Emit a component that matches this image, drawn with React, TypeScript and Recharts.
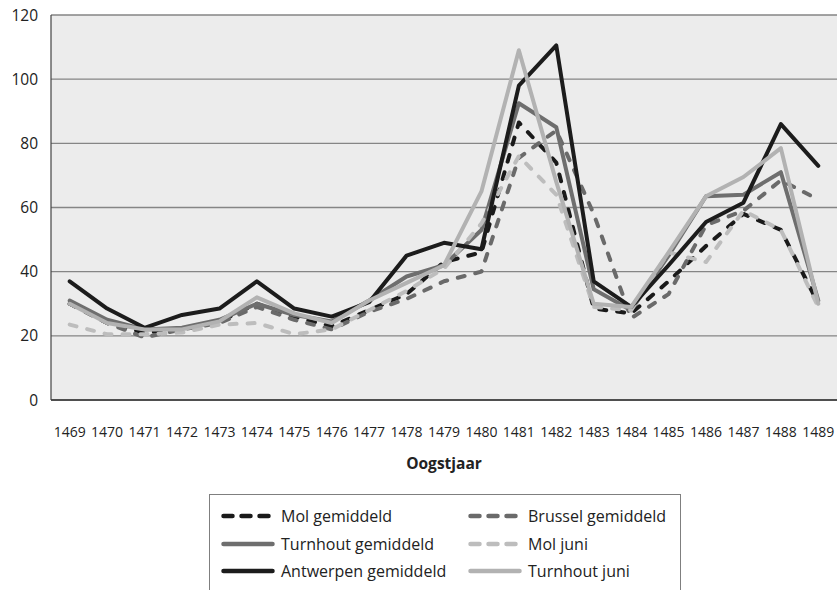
import React from 'react';
import { LineChart, Line, XAxis, YAxis, CartesianGrid } from 'recharts';

const years = [
  '1469', '1470', '1471', '1472', '1473', '1474', '1475', '1476', '1477', '1478', '1479',
  '1480', '1481', '1482', '1483', '1484', '1485', '1486', '1487', '1488', '1489',
];

const molGemiddeld = [30, 24, 21, 22, 24.5, 30, 26, 23, 28, 33, 43, 46, 86.5, 74, 28.5, 27, 37, 48, 58, 53, 30];
const brusselGemiddeld = [30, 24, 19.5, 22, 24, 29, 25, 22, 27.5, 31.5, 37, 40, 75.5, 84, 58, 25.5, 33, 54.5, 59, 68.5, 62.5];
const turnhoutGemiddeld = [31, 25, 22, 22.5, 25, 30, 26.5, 24.5, 31, 38.5, 42, 53, 92.5, 85, 34.5, 28, 45, 63.5, 64, 71, 31];
const molJuni = [23.5, 20.5, 20.5, 21, 23.5, 24, 20.5, 22, 28, 34, 41, 55, 76, 64, 29, 28, 46, 43, 59, 53, 29];
const antwerpenGemiddeld = [37, 28.5, 22.5, 26.5, 28.5, 37, 28.5, 26, 30.5, 45, 49, 47, 98, 110.5, 37, 29, 42, 55.5, 61.5, 86, 73];
const turnhoutJuni = [30, 24, 22, 22, 24.5, 32, 27, 24, 31, 36.5, 42, 65, 109, 68, 30, 29, 46, 63.5, 69.5, 78.5, 30];

const yTicks = [0, 20, 40, 60, 80, 100, 120];

const series = [
  { key: 'molGem', name: 'Mol gemiddeld', color: '#1a1a1a', dashed: true },
  { key: 'brussel', name: 'Brussel gemiddeld', color: '#6a6a6a', dashed: true },
  { key: 'turnhoutGem', name: 'Turnhout gemiddeld', color: '#6e6e6e', dashed: false },
  { key: 'molJuni', name: 'Mol juni', color: '#bdbdbd', dashed: true },
  { key: 'antwerpen', name: 'Antwerpen gemiddeld', color: '#1c1c1c', dashed: false },
  { key: 'turnhoutJuni', name: 'Turnhout juni', color: '#b2b2b2', dashed: false },
];

const data = years.map((year, i) => ({
  year,
  molGem: molGemiddeld[i],
  brussel: brusselGemiddeld[i],
  turnhoutGem: turnhoutGemiddeld[i],
  molJuni: molJuni[i],
  antwerpen: antwerpenGemiddeld[i],
  turnhoutJuni: turnhoutJuni[i],
}));

const font = '"Open Sans", "Noto Sans", sans-serif';

const LegendBox = () => (
  <div
    style={{
      position: 'absolute',
      left: 209,
      top: 494,
      width: 470,
      height: 110,
      border: '1px solid #7f7f7f',
      background: '#fff',
      fontFamily: font,
      fontSize: 16,
      color: '#222',
    }}
  >
    {series.map((s, i) => {
      const col = i % 2;
      const row = Math.floor(i / 2);
      return (
        <div
          key={s.key}
          style={{
            position: 'absolute',
            left: col === 0 ? 11 : 258,
            top: 21 + row * 27.5 - 11,
            height: 22,
            display: 'flex',
            alignItems: 'center',
            whiteSpace: 'nowrap',
          }}
        >
          <svg width={54} height={10} style={{ marginRight: 6 }}>
            <line
              x1={2.5}
              y1={5}
              x2={51.5}
              y2={5}
              stroke={s.color}
              strokeWidth={4.5}
              strokeLinecap="round"
              strokeDasharray={s.dashed ? '9 9' : undefined}
            />
          </svg>
          <span>{s.name}</span>
        </div>
      );
    })}
  </div>
);

export default function App() {
  return (
    <div style={{ position: 'absolute', left: 0, top: 0, width: 837, height: 590, background: '#fff' }}>
      <LineChart
        width={837}
        height={590}
        data={data}
        margin={{ top: 15, right: 0, bottom: 150, left: 0 }}
      >
        <CartesianGrid vertical={false} stroke="#858585" strokeWidth={1.3} fill="#ececec" />
        <XAxis
          dataKey="year"
          height={40}
          padding={{ left: 18.7, right: 18.7 }}
          tickLine={false}
          tickSize={0}
          tickMargin={27}
          interval={0}
          axisLine={{ stroke: '#333', strokeWidth: 1.5 }}
          tick={{ fontSize: 14, fill: '#222', fontFamily: font }}
          label={{
            value: 'Oogstjaar',
            position: 'bottom',
            offset: 18,
            style: { fontSize: 15.5, fontWeight: 700, fill: '#222', fontFamily: font },
          }}
        />
        <YAxis
          width={51}
          domain={[0, 120]}
          ticks={yTicks}
          tickLine={false}
          tickSize={0}
          tickMargin={13}
          axisLine={{ stroke: '#444', strokeWidth: 1.2 }}
          tick={{ fontSize: 15.5, fill: '#222', fontFamily: font }}
        />
        {series.map((s) => (
          <Line
            key={s.key}
            type="linear"
            dataKey={s.key}
            name={s.name}
            stroke={s.color}
            strokeWidth={4}
            strokeLinecap="round"
            strokeLinejoin="round"
            strokeDasharray={s.dashed ? '7 11' : undefined}
            dot={false}
            activeDot={false}
            isAnimationActive={false}
          />
        ))}
      </LineChart>
      <LegendBox />
    </div>
  );
}
